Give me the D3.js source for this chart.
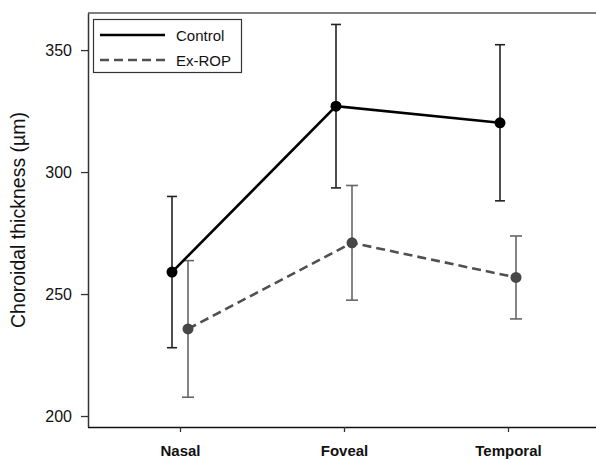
<!DOCTYPE html>
<html>
<head>
<meta charset="utf-8">
<script src="https://cdn.jsdelivr.net/npm/d3@7"></script>
<style>
  body { margin: 0; background: #fff; }
  svg { font-family: "Liberation Sans", Arial, sans-serif; }
</style>
</head>
<body>
<svg id="chart" width="596" height="460"></svg>
<script>
const regions = ["Nasal", "Foveal", "Temporal"];
const controlMean = [259, 327, 320.2];
const controlErr = [31, 33.5, 32];
const exropMean = [235.7, 271, 256.8];
const exropErr = [28, 23.5, 17];
const yTicks = [200, 250, 300, 350];

const svg = d3.select("#chart");
const plotL = 88, plotR = 596, plotT = 13, plotB = 427;

const y = d3.scaleLinear().domain([195.5, 365.2]).range([plotB, plotT]);
const x = d3.scalePoint().domain(regions).range([180, 508]);

// top frame line
svg.append("line")
  .attr("x1", plotL).attr("x2", plotR)
  .attr("y1", plotT).attr("y2", plotT)
  .attr("stroke", "#555").attr("stroke-width", 1.5);

// left axis
const ya = svg.append("g")
  .attr("transform", `translate(${plotL},0)`)
  .call(d3.axisLeft(y).tickValues(yTicks).tickSize(7).tickSizeOuter(0).tickPadding(9));
ya.select(".domain").attr("stroke", "#333").attr("stroke-width", 1.5);
ya.selectAll(".tick line").attr("stroke", "#333").attr("stroke-width", 1.3);
ya.selectAll(".tick text").attr("font-size", 16).attr("fill", "#111").attr("font-family", "Liberation Sans, Arial, sans-serif");

// bottom axis
const xa = svg.append("g")
  .attr("transform", `translate(0,${plotB})`)
  .call(d3.axisBottom(x).tickSize(5).tickSizeOuter(0).tickPadding(13));
xa.select(".domain").attr("d", `M${plotL},0.5H${plotR}`).attr("stroke", "#111").attr("stroke-width", 1.5);
xa.selectAll(".tick line").attr("stroke", "#333").attr("stroke-width", 1.3);
xa.selectAll(".tick text").attr("font-size", 15).attr("font-weight", "bold").attr("fill", "#111")
  .attr("font-family", "Liberation Sans, Arial, sans-serif");

// y title
svg.append("text")
  .attr("transform", `translate(25,220) rotate(-90)`)
  .attr("text-anchor", "middle")
  .attr("font-size", 19.5)
  .attr("fill", "#111")
  .text("Choroidal thickness (µm)");

const series = [
  { name: "Control", mean: controlMean, err: controlErr, dx: -8, line: "#000", bar: "#222", dot: "#000", dash: null, cap: 5 },
  { name: "Ex-ROP", mean: exropMean, err: exropErr, dx: 8, line: "#505050", bar: "#666", dot: "#474747", dash: "9,5", cap: 6 }
];

// draw Ex-ROP first so Control sits on top
series.slice().reverse().forEach(s => {
  const pts = regions.map((r, i) => ({ r, m: s.mean[i], e: s.err[i] }));
  const g = svg.append("g");

  g.selectAll("line.eb").data(pts).enter().append("line")
    .attr("x1", d => x(d.r) + s.dx).attr("x2", d => x(d.r) + s.dx)
    .attr("y1", d => y(d.m - d.e)).attr("y2", d => y(d.m + d.e))
    .attr("stroke", s.bar).attr("stroke-width", 1.6);
  ["+", "-"].forEach(sign => {
    g.selectAll("line.cap" + (sign === "+" ? "u" : "d")).data(pts).enter().append("line")
      .attr("x1", d => x(d.r) + s.dx - s.cap).attr("x2", d => x(d.r) + s.dx + s.cap)
      .attr("y1", d => y(sign === "+" ? d.m + d.e : d.m - d.e))
      .attr("y2", d => y(sign === "+" ? d.m + d.e : d.m - d.e))
      .attr("stroke", s.bar).attr("stroke-width", 1.6);
  });

  const ln = d3.line().x(d => x(d.r) + s.dx).y(d => y(d.m));
  g.append("path").datum(pts)
    .attr("d", ln)
    .attr("fill", "none")
    .attr("stroke", s.line)
    .attr("stroke-width", 2.6)
    .attr("stroke-dasharray", s.dash);

  g.selectAll("circle").data(pts).enter().append("circle")
    .attr("cx", d => x(d.r) + s.dx)
    .attr("cy", d => y(d.m))
    .attr("r", 5.5)
    .attr("fill", s.dot);
});

// legend
const lg = svg.append("g");
lg.append("rect")
  .attr("x", 93.5).attr("y", 19.5).attr("width", 148).attr("height", 53)
  .attr("fill", "#fff").attr("stroke", "#333").attr("stroke-width", 1.2);
series.forEach((s, i) => {
  const ly = 35 + i * 25;
  lg.append("line")
    .attr("x1", 100).attr("x2", 165).attr("y1", ly).attr("y2", ly)
    .attr("stroke", s.line).attr("stroke-width", 2.6)
    .attr("stroke-dasharray", s.dash);
  lg.append("text")
    .attr("x", 176).attr("y", ly + 5.5)
    .attr("font-size", 15).attr("fill", "#111")
    .text(s.name);
});
</script>
</body>
</html>
